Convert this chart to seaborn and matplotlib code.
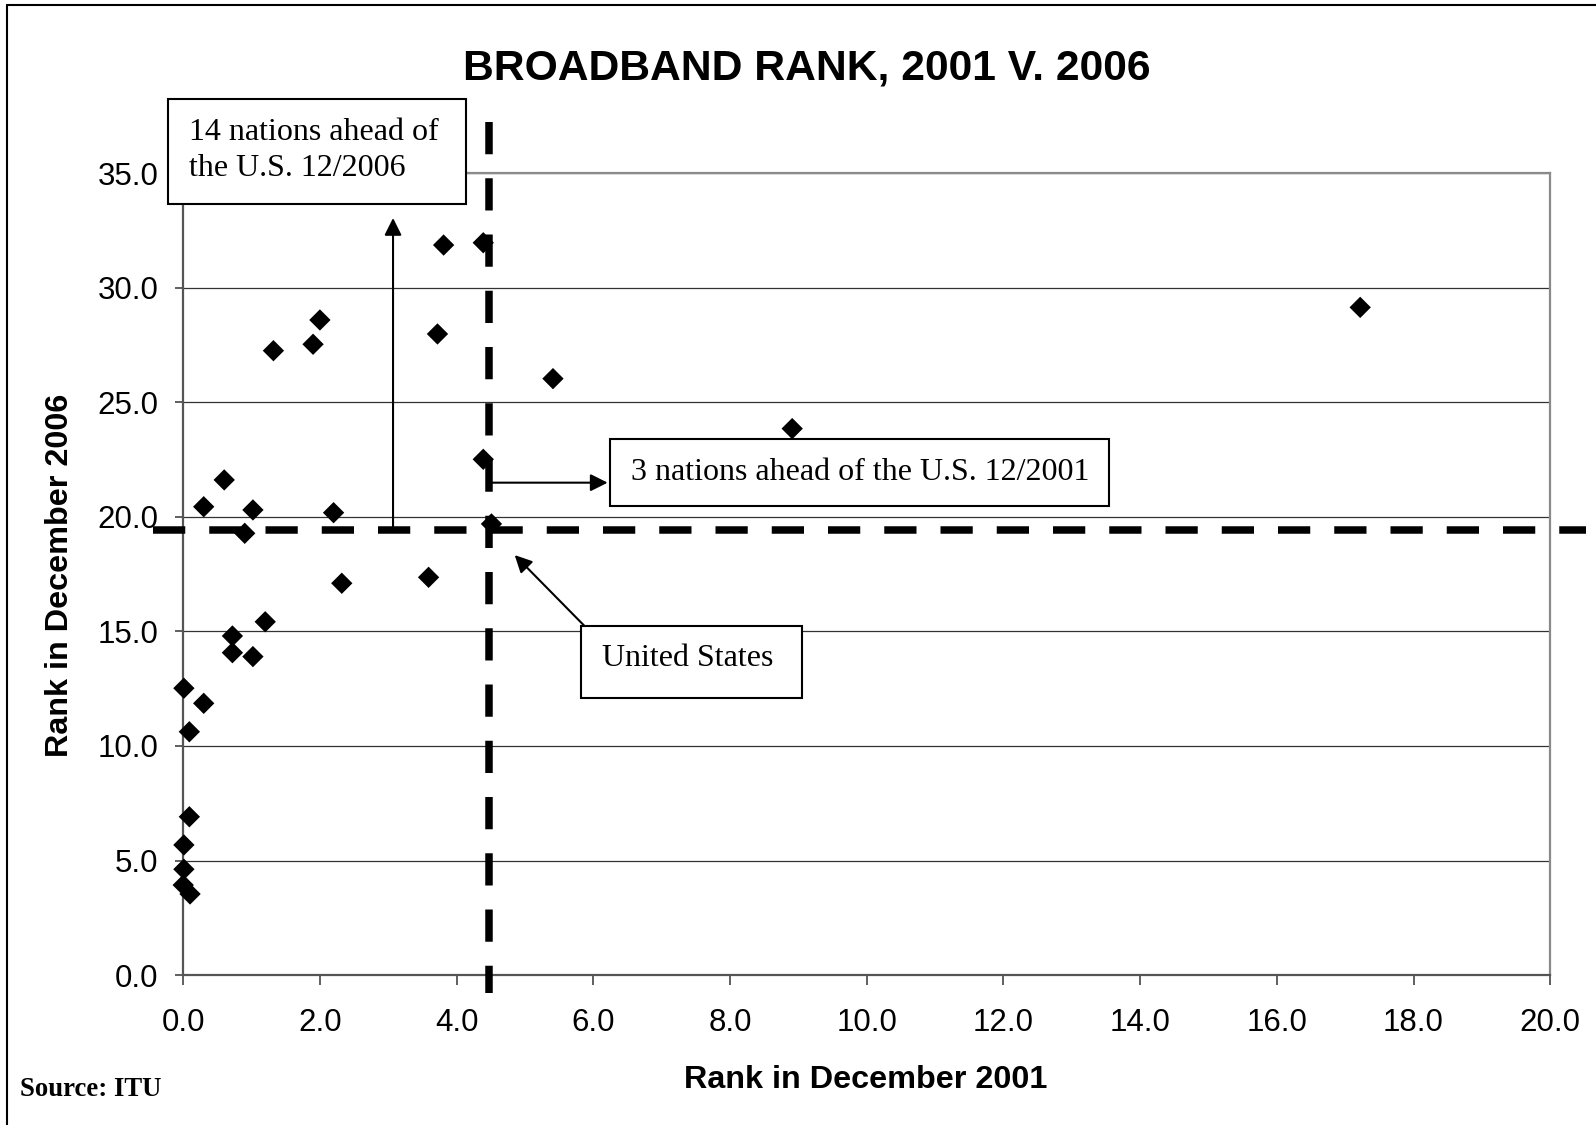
import matplotlib
matplotlib.use("Agg")
import matplotlib.pyplot as plt
from matplotlib.patches import Rectangle
from matplotlib.lines import Line2D
import seaborn as sns
import pandas as pd

# Broadband rank per country: December 2001 vs December 2006
rank_2001 = [0.01, 0.30, 0.09, 0.09, 0.01, 0.01, 0.0, 0.10,
             0.72, 0.72, 1.02, 1.20, 0.30, 0.60, 1.02, 0.90,
             1.32, 1.90, 2.00, 2.20, 2.32, 3.59, 3.72, 3.81,
             4.39, 4.39, 4.51, 5.41, 8.91, 17.22]
rank_2006 = [12.52, 11.86, 10.62, 6.91, 5.68, 4.62, 3.93, 3.54,
             14.80, 14.07, 13.90, 15.42, 20.44, 21.61, 20.30, 19.28,
             27.25, 27.53, 28.59, 20.18, 17.10, 17.36, 27.98, 31.86,
             31.96, 22.51, 19.69, 26.03, 23.85, 29.14]

us_2001 = 4.48
us_2006 = 19.41

x_ticks = [0, 2, 4, 6, 8, 10, 12, 14, 16, 18, 20]
y_ticks = [0, 5, 10, 15, 20, 25, 30, 35]

df = pd.DataFrame({"r2001": rank_2001, "r2006": rank_2006})

sns.set_style("white")
plt.rcParams["font.family"] = ["Liberation Sans", "DejaVu Sans"]
plt.rcParams["text.color"] = "black"
plt.rcParams["xtick.color"] = "black"
plt.rcParams["ytick.color"] = "black"

W, H = 1596, 1125
fig = plt.figure(figsize=(W / 100, H / 100), dpi=100)


def fx(x):
    return x / W


def fy(y):
    return 1 - y / H


ax = fig.add_axes([fx(183.2), fy(975.1), fx(1550.2) - fx(183.2), fy(173.1) - fy(975.1)])

sns.scatterplot(data=df, x="r2001", y="r2006", marker="D", s=118,
                color="black", edgecolor="none", linewidth=0, ax=ax, zorder=4,
                clip_on=False)

ax.set_xlim(0, 20)
ax.set_ylim(0, 35)
ax.set_xticks(x_ticks)
ax.set_yticks(y_ticks)
ax.set_xticklabels([f"{v:.1f}" for v in x_ticks])
ax.set_yticklabels([f"{v:.1f}" for v in y_ticks])
ax.tick_params(axis="x", direction="out", length=7, width=1.2, color="#444444",
               labelcolor="black", labelsize=22.5, pad=17, bottom=True)
ax.tick_params(axis="y", direction="out", length=6, width=1.2, color="#444444",
               labelcolor="black", labelsize=22.5, pad=12, left=True)
ax.set_xlabel("")
ax.set_ylabel("")

ax.yaxis.grid(True, color="#333333", linewidth=0.9)
ax.xaxis.grid(False)
ax.set_axisbelow(True)
for side in ["left", "bottom"]:
    ax.spines[side].set_color("#555555")
    ax.spines[side].set_linewidth(1.6)
for side in ["top", "right"]:
    ax.spines[side].set_color("#8a8a8a")
    ax.spines[side].set_linewidth(1.6)

# Dashed reference lines through the U.S. position
vline = Line2D([us_2001, us_2001], [37.23, -0.78], color="black", linewidth=5.4,
               dash_capstyle="butt", clip_on=False, zorder=5)
vline.set_dashes((4.3, 3.2))
ax.add_line(vline)
hline = Line2D([-0.44, 20.52], [us_2006, us_2006], color="black", linewidth=5.4,
               dash_capstyle="butt", clip_on=False, zorder=5)
hline.set_dashes((4.3, 3.2))
ax.add_line(hline)

# Arrows
arrow_kw = dict(arrowstyle="-|>", color="black", lw=1.5, mutation_scale=26,
                shrinkA=0, shrinkB=0)
ax.annotate("", xy=(3.07, 33.04), xytext=(3.07, us_2006),
            arrowprops=arrow_kw, annotation_clip=False, zorder=6)
ax.annotate("", xy=(6.21, 21.49), xytext=(4.49, 21.49),
            arrowprops=arrow_kw, annotation_clip=False, zorder=6)
ax.annotate("", xy=(4.85, 18.33), xytext=(5.88, 15.21),
            arrowprops=arrow_kw, annotation_clip=False, zorder=6)


def box(x0, y0, x1, y1):
    fig.patches.append(Rectangle((fx(x0), fy(y1)), fx(x1) - fx(x0), fy(y0) - fy(y1),
                                 transform=fig.transFigure, facecolor="white",
                                 edgecolor="black", linewidth=1.5, zorder=10))


serif = ["Liberation Serif", "DejaVu Serif"]

box(168, 98.8, 466, 203.6)
fig.text(fx(189.3), fy(150.5), "14 nations ahead of\nthe U.S. 12/2006", family=serif,
         fontsize=23, ha="left", va="center", linespacing=1.36, zorder=11)

box(609.7, 438.8, 1108.5, 506)
fig.text(fx(631), fy(472.5), "3 nations ahead of the U.S. 12/2001", family=serif,
         fontsize=23, ha="left", va="center", zorder=11)

box(581.2, 626.1, 802.1, 698.4)
fig.text(fx(601.6), fy(659), "United States", family=serif,
         fontsize=23, ha="left", va="center", zorder=11)

# Titles and labels
fig.text(fx(807), fy(69), "BROADBAND RANK, 2001 V. 2006", fontsize=30.7,
         fontweight="bold", ha="center", va="center")
fig.text(fx(866), fy(1080), "Rank in December 2001", fontsize=23.3,
         fontweight="bold", ha="center", va="center")
fig.text(fx(60), fy(575), "Rank in December 2006", fontsize=23.3,
         fontweight="bold", ha="center", va="center", rotation=90)
fig.text(fx(20.4), fy(1090), "Source: ITU", family=serif, fontsize=19.3,
         fontweight="bold", ha="left", va="center")

# Outer frame (top and left edges)
fig.lines.append(Line2D([fx(7), 1], [fy(5), fy(5)], transform=fig.transFigure,
                        color="black", linewidth=1.5))
fig.lines.append(Line2D([fx(7), fx(7)], [fy(5), 0], transform=fig.transFigure,
                        color="black", linewidth=1.5))

fig.savefig("out.png", dpi=100, facecolor="white")
